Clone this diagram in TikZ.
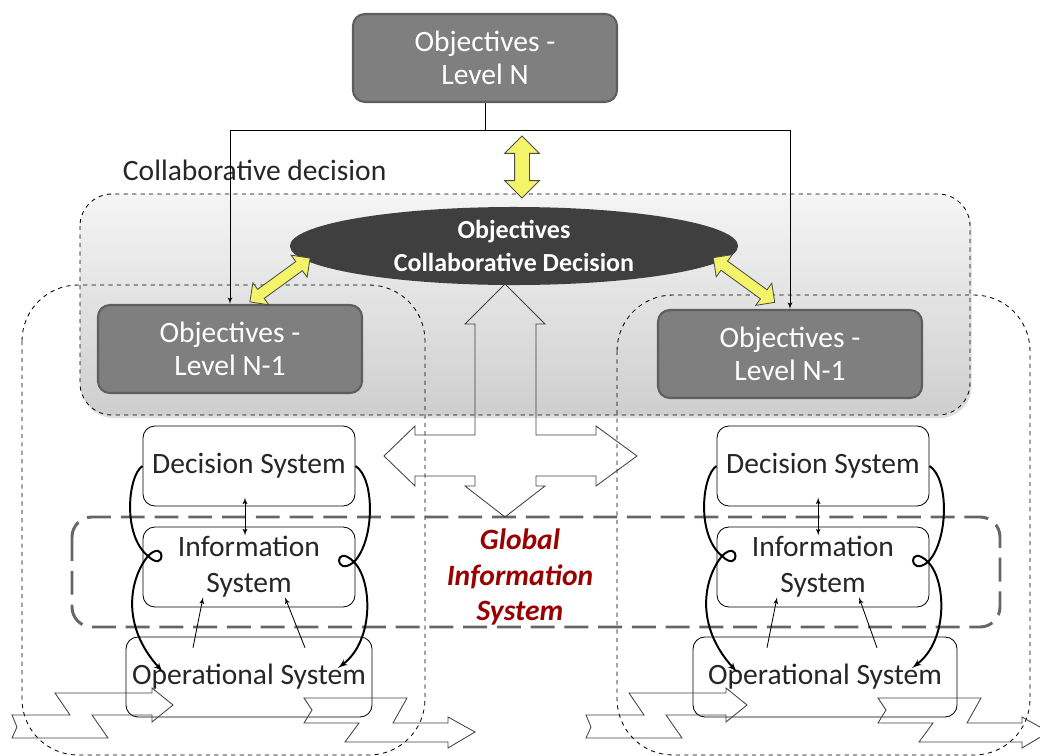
\documentclass[tikz,border=0pt]{standalone}
\usepackage{fontspec}
\setmainfont{Carlito}
\usetikzlibrary{shapes,arrows,shadows}

\definecolor{objfill}{HTML}{7F7F7F}
\definecolor{objline}{HTML}{5E5E5E}
\definecolor{ellfill}{HTML}{3F3F3F}
\definecolor{yelfill}{HTML}{F4F46A}
\definecolor{gisred}{HTML}{990000}

\tikzstyle{objbox} = [rectangle, draw=objline, line width=1.5pt, fill=objfill, rounded corners=0.3cm, text=white, align=center, minimum width=6.6cm, minimum height=2.2cm, font=\fontsize{21}{23.5}\selectfont]
\tikzstyle{sysbox} = [rectangle, draw, line width=0.6pt, rounded corners=0.3cm, align=center, text=black!85, minimum width=5.3cm, minimum height=2cm, font=\fontsize{21}{25.5}\selectfont]
\tikzstyle{yelarrow} = [double arrow, draw=gray!60!black, line width=0.6pt, fill=yelfill, inner xsep=0pt]
\tikzstyle{region} = [draw, dashed, line width=0.6pt, rounded corners=1.4cm]
\tikzstyle{gisbox} = [draw=black!60, line width=2.1pt, dash pattern=on 17pt off 7pt, rounded corners=0.5cm]
\tikzstyle{line} = [draw, line width=0.6pt, -latex']
\tikzstyle{curl} = [draw, line width=1.4pt, -latex']
\tikzstyle{outline} = [draw=black!75, line width=0.6pt]

\begin{document}
\begin{tikzpicture}[x=0.025cm, y=-0.025cm]
    \useasboundingbox (0,0) rectangle (1040,756);
    % Regions
    \draw[region, rounded corners=0.8cm, top color=gray!8, bottom color=gray!38, drop shadow={opacity=0.25, shadow xshift=0.04cm, shadow yshift=-0.08cm}] (80,194) rectangle (970,415);
    \draw[region] (22,285) rectangle (425,755);
    \draw[region] (617,295) rectangle (1030,755);
    \draw[gisbox] (72,517) rectangle (1000,627);

    % Place nodes
    \node[objbox] (topobj) at (485,58) {Objectives -\\Level N};
    \node[anchor=west, text=black!85, font=\fontsize{21}{25}\selectfont] (collab) at (118,170) {Collaborative decision};
    \node[ellipse, fill=ellfill, minimum width=11.2cm, minimum height=1.95cm, inner sep=0pt, text=white, align=center, font=\bfseries\fontsize{18.5}{23.5}\selectfont] (colldec) at (514,246) {Objectives\\Collaborative Decision};
    \node[objbox] (objL) at (230,349) {Objectives -\\Level N-1};
    \node[objbox] (objR) at (790,354) {Objectives -\\Level N-1};

    \node[sysbox] (dsL) at (249,466) {Decision System};
    \node[sysbox] (isL) at (249,567) {Information\\System};
    \node[sysbox, minimum width=6.15cm, inner sep=1pt] (osL) at (249,677) {Operational System};
    \node[sysbox] (dsR) at (823,466) {Decision System};
    \node[sysbox] (isR) at (823,567) {Information\\System};
    \node[sysbox, minimum width=6.6cm, inner sep=1pt] (osR) at (825,677) {Operational System};

    \node[align=center, text=gisred, font=\bfseries\itshape\fontsize{21}{25}\selectfont] (gis) at (520,577) {Global\\Information\\System};

    % Yellow arrows
    \node[yelarrow, minimum height=1.55cm, inner ysep=0.175cm, double arrow head extend=0.25cm, rotate=90] (yvert) at (522,167) {};
    \node[yelarrow, minimum height=1.86cm, inner ysep=0.13cm, double arrow head extend=0.2cm, rotate=36] (ydiagL) at (280,280) {};
    \node[yelarrow, minimum height=1.9cm, inner ysep=0.13cm, double arrow head extend=0.2cm, rotate=-36] (ydiagR) at (744,280) {};

    % Draw edges
    \coordinate (split) at (485,130);
    \path[line] (topobj.south) -- (split) -| (objL.north);
    \path[line] (split) -| (objR.north);

    \path[line, latex'-latex', shorten <=-0.22cm, shorten >=-0.22cm] ([xshift=-0.1cm]dsL.south) -- ([xshift=-0.1cm]isL.north);
    \path[line] ([xshift=-1.4cm, yshift=-0.28cm]osL.north) -- ([xshift=-1.15cm, yshift=0.25cm]isL.south);
    \path[line] ([xshift=1.4cm, yshift=-0.28cm]osL.north) -- ([xshift=0.9cm, yshift=0.25cm]isL.south);
    \path[line, latex'-latex', shorten <=-0.22cm, shorten >=-0.22cm] ([xshift=-0.12cm]dsR.south) -- ([xshift=-0.12cm]isR.north);
    \path[line] ([xshift=-1.45cm, yshift=-0.28cm]osR.north) -- ([xshift=-1.15cm, yshift=0.25cm]isR.south);
    \path[line] ([xshift=1.3cm, yshift=-0.28cm]osR.north) -- ([xshift=0.9cm, yshift=0.25cm]isR.south);

    % Curled arrows
    \coordinate (loopLW) at (148,556);
    \coordinate (tipLW) at (163,672);
    \coordinate (loopLE) at (354,562);
    \coordinate (tipLE) at (338,668);
    \path[curl] (dsL.west) .. controls (128,475) and (122,535) .. (loopLW) .. controls (166,574) and (166,538) .. (loopLW) .. controls (130,578) and (120,625) .. (tipLW);
    \path[curl] (dsL.east) .. controls (375,478) and (375,540) .. (loopLE) .. controls (334,578) and (334,542) .. (loopLE) .. controls (372,580) and (375,640) .. (tipLE);
    \coordinate (loopRW) at (722,556);
    \coordinate (tipRW) at (737,672);
    \coordinate (loopRE) at (928,562);
    \coordinate (tipRE) at (912,668);
    \path[curl] (dsR.west) .. controls (702,475) and (696,535) .. (loopRW) .. controls (740,574) and (740,538) .. (loopRW) .. controls (704,578) and (694,625) .. (tipRW);
    \path[curl] (dsR.east) .. controls (949,478) and (949,540) .. (loopRE) .. controls (908,578) and (908,542) .. (loopRE) .. controls (946,580) and (949,640) .. (tipRE);

    % Four-way arrow
    \draw[outline] (505,284) -- (545,324) -- (536,324) -- (536,435) -- (596,435) -- (596,426) -- (637,456) -- (596,486) -- (596,476) -- (536,476) -- (536,486) -- (545,486) -- (505,517) -- (465,486) -- (475,486) -- (475,476) -- (415,476) -- (415,486) -- (384,456) -- (415,426) -- (415,435) -- (475,435) -- (475,324) -- (465,324) -- cycle;

    % Zigzag flows
    \draw[outline] (12,715) -- (70,715) -- (55,693) -- (152,693) -- (152,688) -- (173,705) -- (152,722) -- (152,715) -- (92,715) -- (108,738) -- (12,738) -- (17,727) -- cycle;
    \draw[outline] (304,698) -- (407,698) -- (393,723) -- (448,723) -- (448,717) -- (475,732) -- (448,748) -- (448,742) -- (345,742) -- (359,723) -- (304,723) -- (312,710) -- cycle;
    \draw[outline] (586,715) -- (644,715) -- (629,693) -- (726,693) -- (726,688) -- (747,705) -- (726,722) -- (726,715) -- (666,715) -- (682,738) -- (586,738) -- (591,727) -- cycle;
    \draw[outline] (878,698) -- (981,698) -- (967,723) -- (1022,723) -- (1022,717) -- (1049,732) -- (1022,748) -- (1022,742) -- (919,742) -- (933,723) -- (878,723) -- (886,710) -- cycle;
\end{tikzpicture}
\end{document}
